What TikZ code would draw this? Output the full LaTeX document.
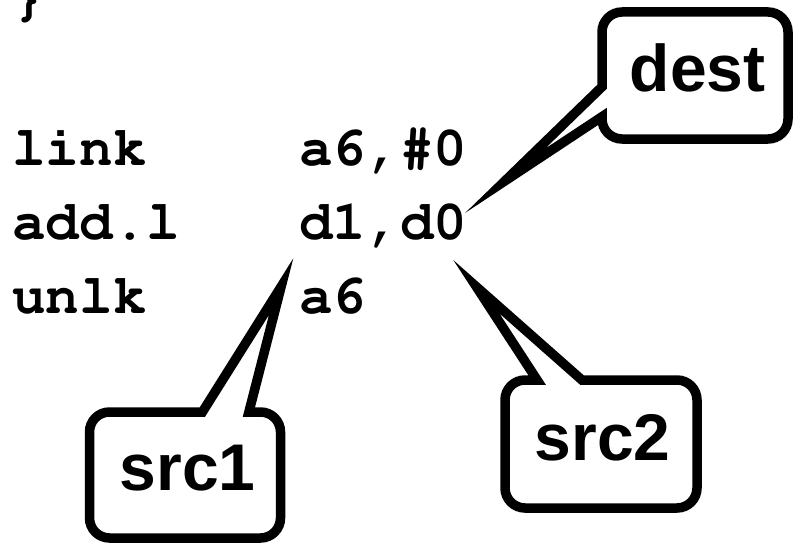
\documentclass[tikz,border=0pt]{standalone}
\usepackage[T1]{fontenc}
\usepackage{fontspec}
\setmainfont{Liberation Sans}
% Courier bold typewriter face for the listing
\newcommand\listingfont{\fontencoding{T1}\fontfamily{pcr}\fontseries{b}\selectfont}
\begin{document}
\begin{tikzpicture}[x=1pt, y=-1pt,
  code/.style={anchor=base west, inner sep=0pt, font=\listingfont\fontsize{56}{56}\selectfont},
  label/.style={anchor=base west, inner sep=0pt, font=\bfseries\fontsize{66}{66}\selectfont},
  balloon/.style={draw=black, fill=white, line width=9.5pt, line join=miter, miter limit=30}]
\useasboundingbox (0,0) rectangle (793,543);

% assembly listing
\node[code] (brace)   at (12,15)  {\}};
\node[code] (link)    at (12,165) {link};
\node[code] (linkops) at (299,165) {a6,\#0};
\node[code] (add)     at (12,239) {add.l};
\node[code] (addops)  at (299,239) {d1,d0};
\node[code] (unlk)    at (12,313) {unlk};
\node[code] (unlkops) at (299,313) {a6};

% pointer tips of the balloons
\coordinate (destTip) at (505.1,180.8);
\coordinate (srcOneTip) at (281.1,286.7);
\coordinate (srcTwoTip) at (476.4,286.8);

% dest balloon, pointer on the left edge
\draw[balloon] (602,86.8) -- (destTip) -- (602,116.7) -- (602,119)
  arc[start angle=180, end angle=90, radius=20] -- (768,139)
  arc[start angle=90, end angle=0, radius=20] -- (788,32)
  arc[start angle=0, end angle=-90, radius=20] -- (622,12)
  arc[start angle=270, end angle=180, radius=20] -- cycle;

% src1 balloon, pointer on the top edge
\draw[balloon] (202.4,412) -- (srcOneTip) -- (248.9,412) -- (260.5,412)
  arc[start angle=270, end angle=360, radius=20] -- (280.5,518)
  arc[start angle=0, end angle=90, radius=20] -- (109.5,538)
  arc[start angle=90, end angle=180, radius=20] -- (89.5,432)
  arc[start angle=180, end angle=270, radius=20] -- cycle;

% src2 balloon, pointer on the top edge
\draw[balloon] (537.1,380) -- (srcTwoTip) -- (581.9,380) -- (677,380)
  arc[start angle=270, end angle=360, radius=20] -- (697,488)
  arc[start angle=0, end angle=90, radius=20] -- (525,508)
  arc[start angle=90, end angle=180, radius=20] -- (505,400)
  arc[start angle=180, end angle=270, radius=20] -- cycle;

% balloon labels
\node[label] (dest) at (629.5,92) {dest};
\node[label] (src1) at (119.5,490) {src1};
\node[label] (src2) at (534.5,460) {src2};
\end{tikzpicture}
\end{document}
